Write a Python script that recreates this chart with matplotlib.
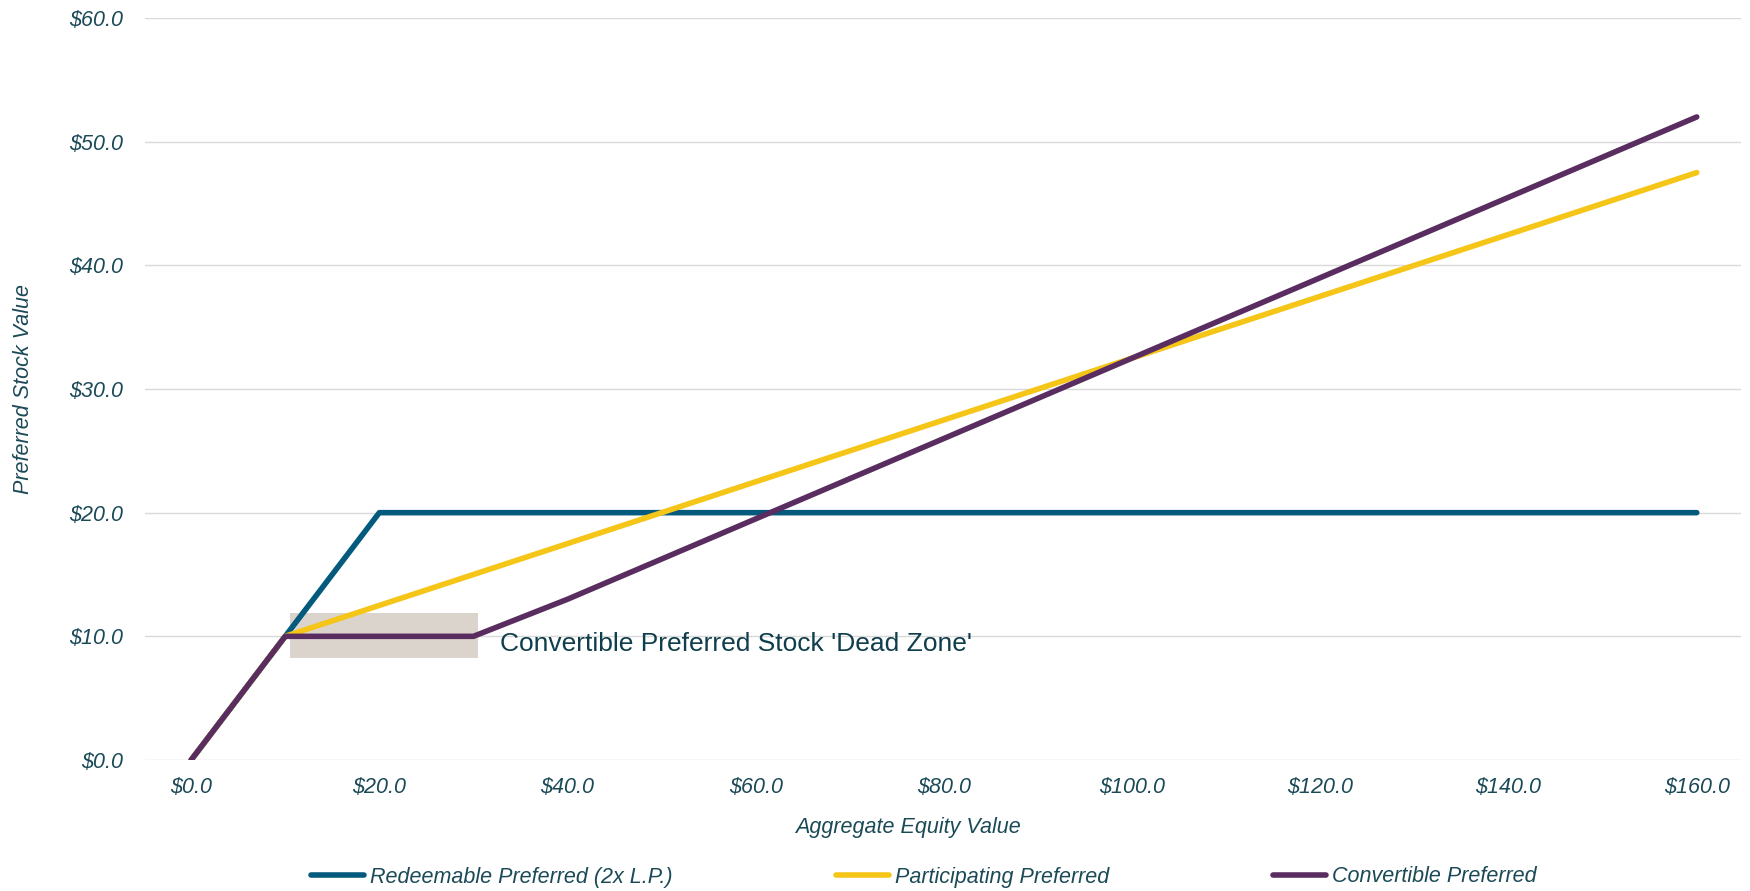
import matplotlib.pyplot as plt

# Valores
equity = [0, 10, 20, 30, 40, 50, 60, 70, 80, 90, 100, 110, 120, 130, 140, 150, 160]
redeemable = [0, 10, 20, 20, 20, 20, 20, 20, 20, 20, 20, 20, 20, 20, 20, 20, 20]
participating = [0, 10, 12.5, 15, 17.5, 20, 22.5, 25, 27.5, 30, 32.5, 35, 37.5, 40, 42.5, 45, 47.5]
convertible = [0, 10, 10, 10, 13, 16.25, 19.5, 22.75, 26, 29.25, 32.5, 35.75, 39, 42.25, 45.5, 48.75, 52]

x_ticks = [0, 20, 40, 60, 80, 100, 120, 140, 160]
y_ticks = [0, 10, 20, 30, 40, 50, 60]

# Zona morta destacada
dead_zone_x = (10.5, 30.5)
dead_zone_y = (8.25, 11.9)

series = [
    ('Redeemable Preferred (2x L.P.)', redeemable, '#045A7D'),
    ('Participating Preferred', participating, '#F5C518'),
    ('Convertible Preferred', convertible, '#5A2D60'),
]

text_color = '#1B4A57'
fs = 15.5
plt.rcParams['font.family'] = ['Liberation Sans', 'DejaVu Sans']

fig = plt.figure(figsize=(17.5, 8.91), dpi=100)
ax = fig.add_axes([145 / 1750, 1 - 760 / 891, (1741 - 145) / 1750, (760 - 18) / 891])

ax.add_patch(plt.Rectangle((dead_zone_x[0], dead_zone_y[0]),
                           dead_zone_x[1] - dead_zone_x[0],
                           dead_zone_y[1] - dead_zone_y[0],
                           facecolor='#DAD4CD', edgecolor='none', zorder=1))

for label, values, color in series:
    ax.plot(equity, values, color=color, lw=4, solid_capstyle='round',
            solid_joinstyle='round', label=label, zorder=3)

ax.text(32.8, 9.4, "Convertible Preferred Stock 'Dead Zone'", fontsize=19,
        color='#0F3E4C', va='center', ha='left', zorder=4)

ax.set_xlim(-4.9, 164.7)
ax.set_ylim(0, 60)
ax.set_xticks(x_ticks)
ax.set_yticks(y_ticks)
ax.set_xticklabels([f'${v:.1f}' for v in x_ticks])
ax.set_yticklabels([f'${v:.1f}' for v in y_ticks])
ax.tick_params(length=0, labelsize=fs, labelcolor=text_color)
ax.tick_params(axis='x', pad=12)
ax.tick_params(axis='y', pad=16)
for lab in ax.get_xticklabels() + ax.get_yticklabels():
    lab.set_fontstyle('italic')

ax.grid(axis='y', color='#D9D9D9', lw=1)
ax.set_axisbelow(True)
for s in ax.spines.values():
    s.set_visible(False)

ax.set_xlabel('Aggregate Equity Value', fontsize=fs, color=text_color,
              style='italic', labelpad=14)
ax.xaxis.label.set_x(0.478)
ax.set_ylabel('Preferred Stock Value', fontsize=fs, color=text_color,
              style='italic', labelpad=25)

fig.legend(loc='center', bbox_to_anchor=(0.528, 1 - 877 / 891), ncol=3,
           frameon=False, handlelength=2.45, columnspacing=7.6,
           handletextpad=0.3, prop={'style': 'italic', 'size': fs},
           labelcolor=text_color)

fig.savefig('out.png', dpi=100)
